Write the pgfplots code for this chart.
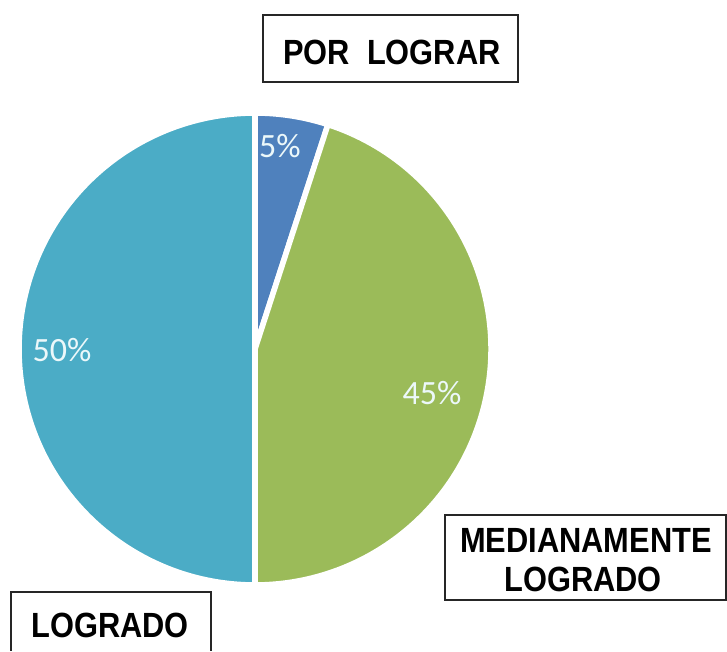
\documentclass[border=0pt]{standalone}
\usepackage{graphicx}
\usepackage{fontspec}
\setmainfont{Liberation Sans}
\newfontfamily\carlito{Carlito}
\usepackage{pgfplots}
\usepackage{pgfplotstable}
\pgfplotsset{compat=1.18}

\definecolor{cBlue}{RGB}{79,129,189}
\definecolor{cGreen}{RGB}{155,187,89}
\definecolor{cTeal}{RGB}{75,172,198}
\definecolor{pctText}{RGB}{236,248,250}

% slices clockwise from 12 o'clock
\pgfplotstableread{
pct col
5  cBlue
45 cGreen
50 cTeal
}\piedata

\newcommand{\cat}[1]{\scalebox{0.88}[1]{\fontsize{17.5pt}{19.5pt}\selectfont\bfseries #1}}

\begin{document}
\begin{tikzpicture}
\begin{axis}[x=0.5pt, y=0.5pt, xmin=0, xmax=727, ymin=0, ymax=651,
  hide axis, clip=false]
  \path (axis cs:0,0) rectangle (axis cs:727,651);

  % pie slices
  \pgfplotstablegetrowsof{\piedata}
  \pgfmathtruncatemacro{\last}{\pgfplotsretval-1}
  \gdef\angA{90}
  \pgfplotsforeachungrouped \i in {0,...,\last}{%
    \pgfplotstablegetelem{\i}{pct}\of\piedata \let\pct=\pgfplotsretval
    \pgfplotstablegetelem{\i}{col}\of\piedata \let\col=\pgfplotsretval
    \pgfmathsetmacro{\angB}{\angA-3.6*\pct}
    \edef\temp{\noexpand\fill[\col, draw=white, line width=2.8pt, line join=round]
      (axis cs:255,302) -- ++(\angA:118pt)
      arc[start angle=\angA, end angle=\angB, radius=118pt] -- cycle;}
    \temp
    \global\let\angA=\angB
  }

  % percentage labels
  \node[text=pctText, font=\carlito\fontsize{17pt}{19pt}\selectfont] at (axis cs:280,505) {5\%};
  \node[text=pctText, font=\carlito\fontsize{17pt}{19pt}\selectfont] at (axis cs:432,258) {45\%};
  \node[text=pctText, font=\carlito\fontsize{17pt}{19pt}\selectfont] at (axis cs:62,301) {50\%};

  % category boxes
  \draw[black!85, line width=1pt] (axis cs:263,569) rectangle (axis cs:518,636);
  \node[anchor=base, inner sep=0pt] at (axis cs:392,586) {\cat{POR\hspace{0.55em}LOGRAR}};

  \draw[black!85, line width=1pt] (axis cs:445,51) rectangle (axis cs:726,136);
  \node[anchor=base, inner sep=0pt] at (axis cs:586,98) {\cat{MEDIANAMENTE}};
  \node[anchor=base, inner sep=0pt] at (axis cs:583,59) {\cat{LOGRADO}};

  \draw[black!85, line width=1pt] (axis cs:11,0) -- (axis cs:11,59) -- (axis cs:211,59) -- (axis cs:211,0);
  \node[anchor=base, inner sep=0pt] at (axis cs:110,13) {\cat{LOGRADO}};
\end{axis}
\end{tikzpicture}
\end{document}
